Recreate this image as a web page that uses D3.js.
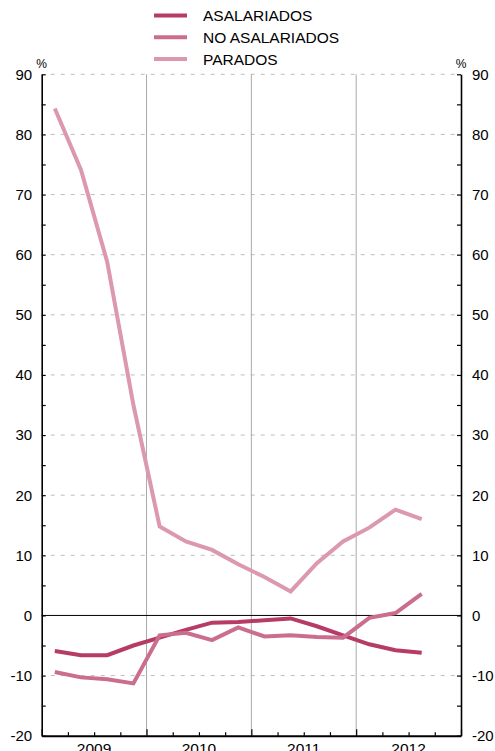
<!DOCTYPE html>
<html>
<head>
<meta charset="utf-8">
<script src="https://cdn.jsdelivr.net/npm/d3@7"></script>
<style>
  html, body { margin: 0; padding: 0; background: #fff; }
  svg { display: block; }
  text { font-family: "Liberation Sans", Arial, Helvetica, sans-serif; fill: #000; }
</style>
</head>
<body>
<svg id="chart" width="495" height="751"></svg>
<script>
// ---- Data (quarterly, 2009 Q1 .. 2012 Q3) ----
const years = ["2009", "2010", "2011", "2012"];
const quarters = ["2009T1","2009T2","2009T3","2009T4","2010T1","2010T2","2010T3","2010T4",
                  "2011T1","2011T2","2011T3","2011T4","2012T1","2012T2","2012T3"];
const seriesNames = ["ASALARIADOS", "NO ASALARIADOS", "PARADOS"];
const asalariados    = [-5.9, -6.6, -6.6, -5.0, -3.7, -2.4, -1.2, -1.1, -0.8, -0.5, -1.8, -3.3, -4.8, -5.8, -6.2];
const noAsalariados  = [-9.4, -10.3, -10.6, -11.3, -3.3, -2.9, -4.1, -2.0, -3.5, -3.3, -3.6, -3.7, -0.4, 0.4, 3.6];
const parados        = [84.3, 74.1, 58.8, 35.0, 14.8, 12.3, 10.9, 8.5, 6.4, 4.0, 8.7, 12.3, 14.6, 17.6, 16.0];
const yTicksMajor = [-20, -10, 0, 10, 20, 30, 40, 50, 60, 70, 80, 90];
const colors = ["#b73b67", "#cb6d8e", "#dc98ae"];

const svg = d3.select("#chart");
const L = 41.7, R = 461, T = 74.3, B = 735.7;

const x = d3.scaleLinear().domain([0, quarters.length + 1]).range([L, R]); // 16 quarter slots
const y = d3.scaleLinear().domain([-20, 90]).range([B, T]);
const xc = i => x(i + 0.5);

// grid lines (dashed) at major ticks except 0 and -20
svg.append("g").selectAll("line")
  .data(yTicksMajor.filter(d => d !== 0 && d !== -20))
  .join("line")
  .attr("x1", L + 4).attr("x2", R - 4)
  .attr("y1", d => y(d)).attr("y2", d => y(d))
  .attr("stroke", "#bdbdbd").attr("stroke-width", 1)
  .attr("stroke-dasharray", "4,6").attr("stroke-dashoffset", -5);

// vertical year separators
svg.append("g").selectAll("line")
  .data([4, 8, 12])
  .join("line")
  .attr("x1", d => x(d)).attr("x2", d => x(d))
  .attr("y1", T).attr("y2", B)
  .attr("stroke", "#aaaaaa").attr("stroke-width", 1);

// zero line
svg.append("line")
  .attr("x1", L).attr("x2", R).attr("y1", y(0)).attr("y2", y(0))
  .attr("stroke", "#000").attr("stroke-width", 1);

// axes
const yMinor = d3.range(-20, 91, 5);
const leftAxis = d3.axisLeft(y).tickValues(yMinor).tickSize(-4).tickSizeOuter(0)
  .tickPadding(9.5).tickFormat(d => d % 10 === 0 ? d : "");
const rightAxis = d3.axisRight(y).tickValues(yMinor).tickSize(-4).tickSizeOuter(0)
  .tickPadding(11).tickFormat(d => d % 10 === 0 ? d : "");

function styleAxis(g) {
  g.select(".domain").attr("stroke", "#000").attr("stroke-width", 1.6);
  g.selectAll(".tick line").attr("stroke", "#000").attr("stroke-width", 1.2);
  g.selectAll(".tick text").attr("font-size", 15).attr("fill", "#000")
    .attr("font-family", "Liberation Sans, Arial, sans-serif");
}
svg.append("g").attr("transform", `translate(${L},0)`).call(leftAxis).call(styleAxis);
svg.append("g").attr("transform", `translate(${R},0)`).call(rightAxis).call(styleAxis);

// bottom axis: quarter ticks (short) and year ticks (long)
const bottomQ = d3.axisBottom(x).tickValues(d3.range(0, 17)).tickSize(-3.5).tickSizeOuter(0).tickFormat("");
const gB = svg.append("g").attr("transform", `translate(0,${B})`).call(bottomQ);
gB.select(".domain").attr("stroke", "#000").attr("stroke-width", 2);
gB.selectAll(".tick line").attr("stroke", "#000").attr("stroke-width", 1.2)
  .attr("y2", d => (d % 4 === 0) ? -6.5 : -3.5);

// year labels
svg.append("g").selectAll("text")
  .data(years)
  .join("text")
  .attr("x", (d, i) => x(i * 4 + 2))
  .attr("y", 754)
  .attr("text-anchor", "middle")
  .attr("font-size", 15.5)
  .text(d => d);

// % labels
[L, R].forEach(px => {
  svg.append("text").attr("x", px).attr("y", 68).attr("text-anchor", "middle")
    .attr("font-size", 12).text("%");
});

// lines
const line = d3.line().x((d, i) => xc(i)).y(d => y(d));
const dataSeries = [parados, asalariados, noAsalariados];
const colorOf = [colors[2], colors[0], colors[1]];
dataSeries.forEach((s, k) => {
  svg.append("path").datum(s)
    .attr("d", line)
    .attr("fill", "none")
    .attr("stroke", colorOf[k])
    .attr("stroke-width", 4)
    .attr("stroke-linejoin", "miter");
});

// legend
const lg = svg.append("g");
seriesNames.forEach((name, i) => {
  const yy = 15.5 + i * 21.8;
  lg.append("line").attr("x1", 154).attr("x2", 187).attr("y1", yy).attr("y2", yy)
    .attr("stroke", colors[i]).attr("stroke-width", 4);
  lg.append("text").attr("x", 203).attr("y", yy + 5.5).attr("font-size", 15.5).text(name);
});
</script>
</body>
</html>
